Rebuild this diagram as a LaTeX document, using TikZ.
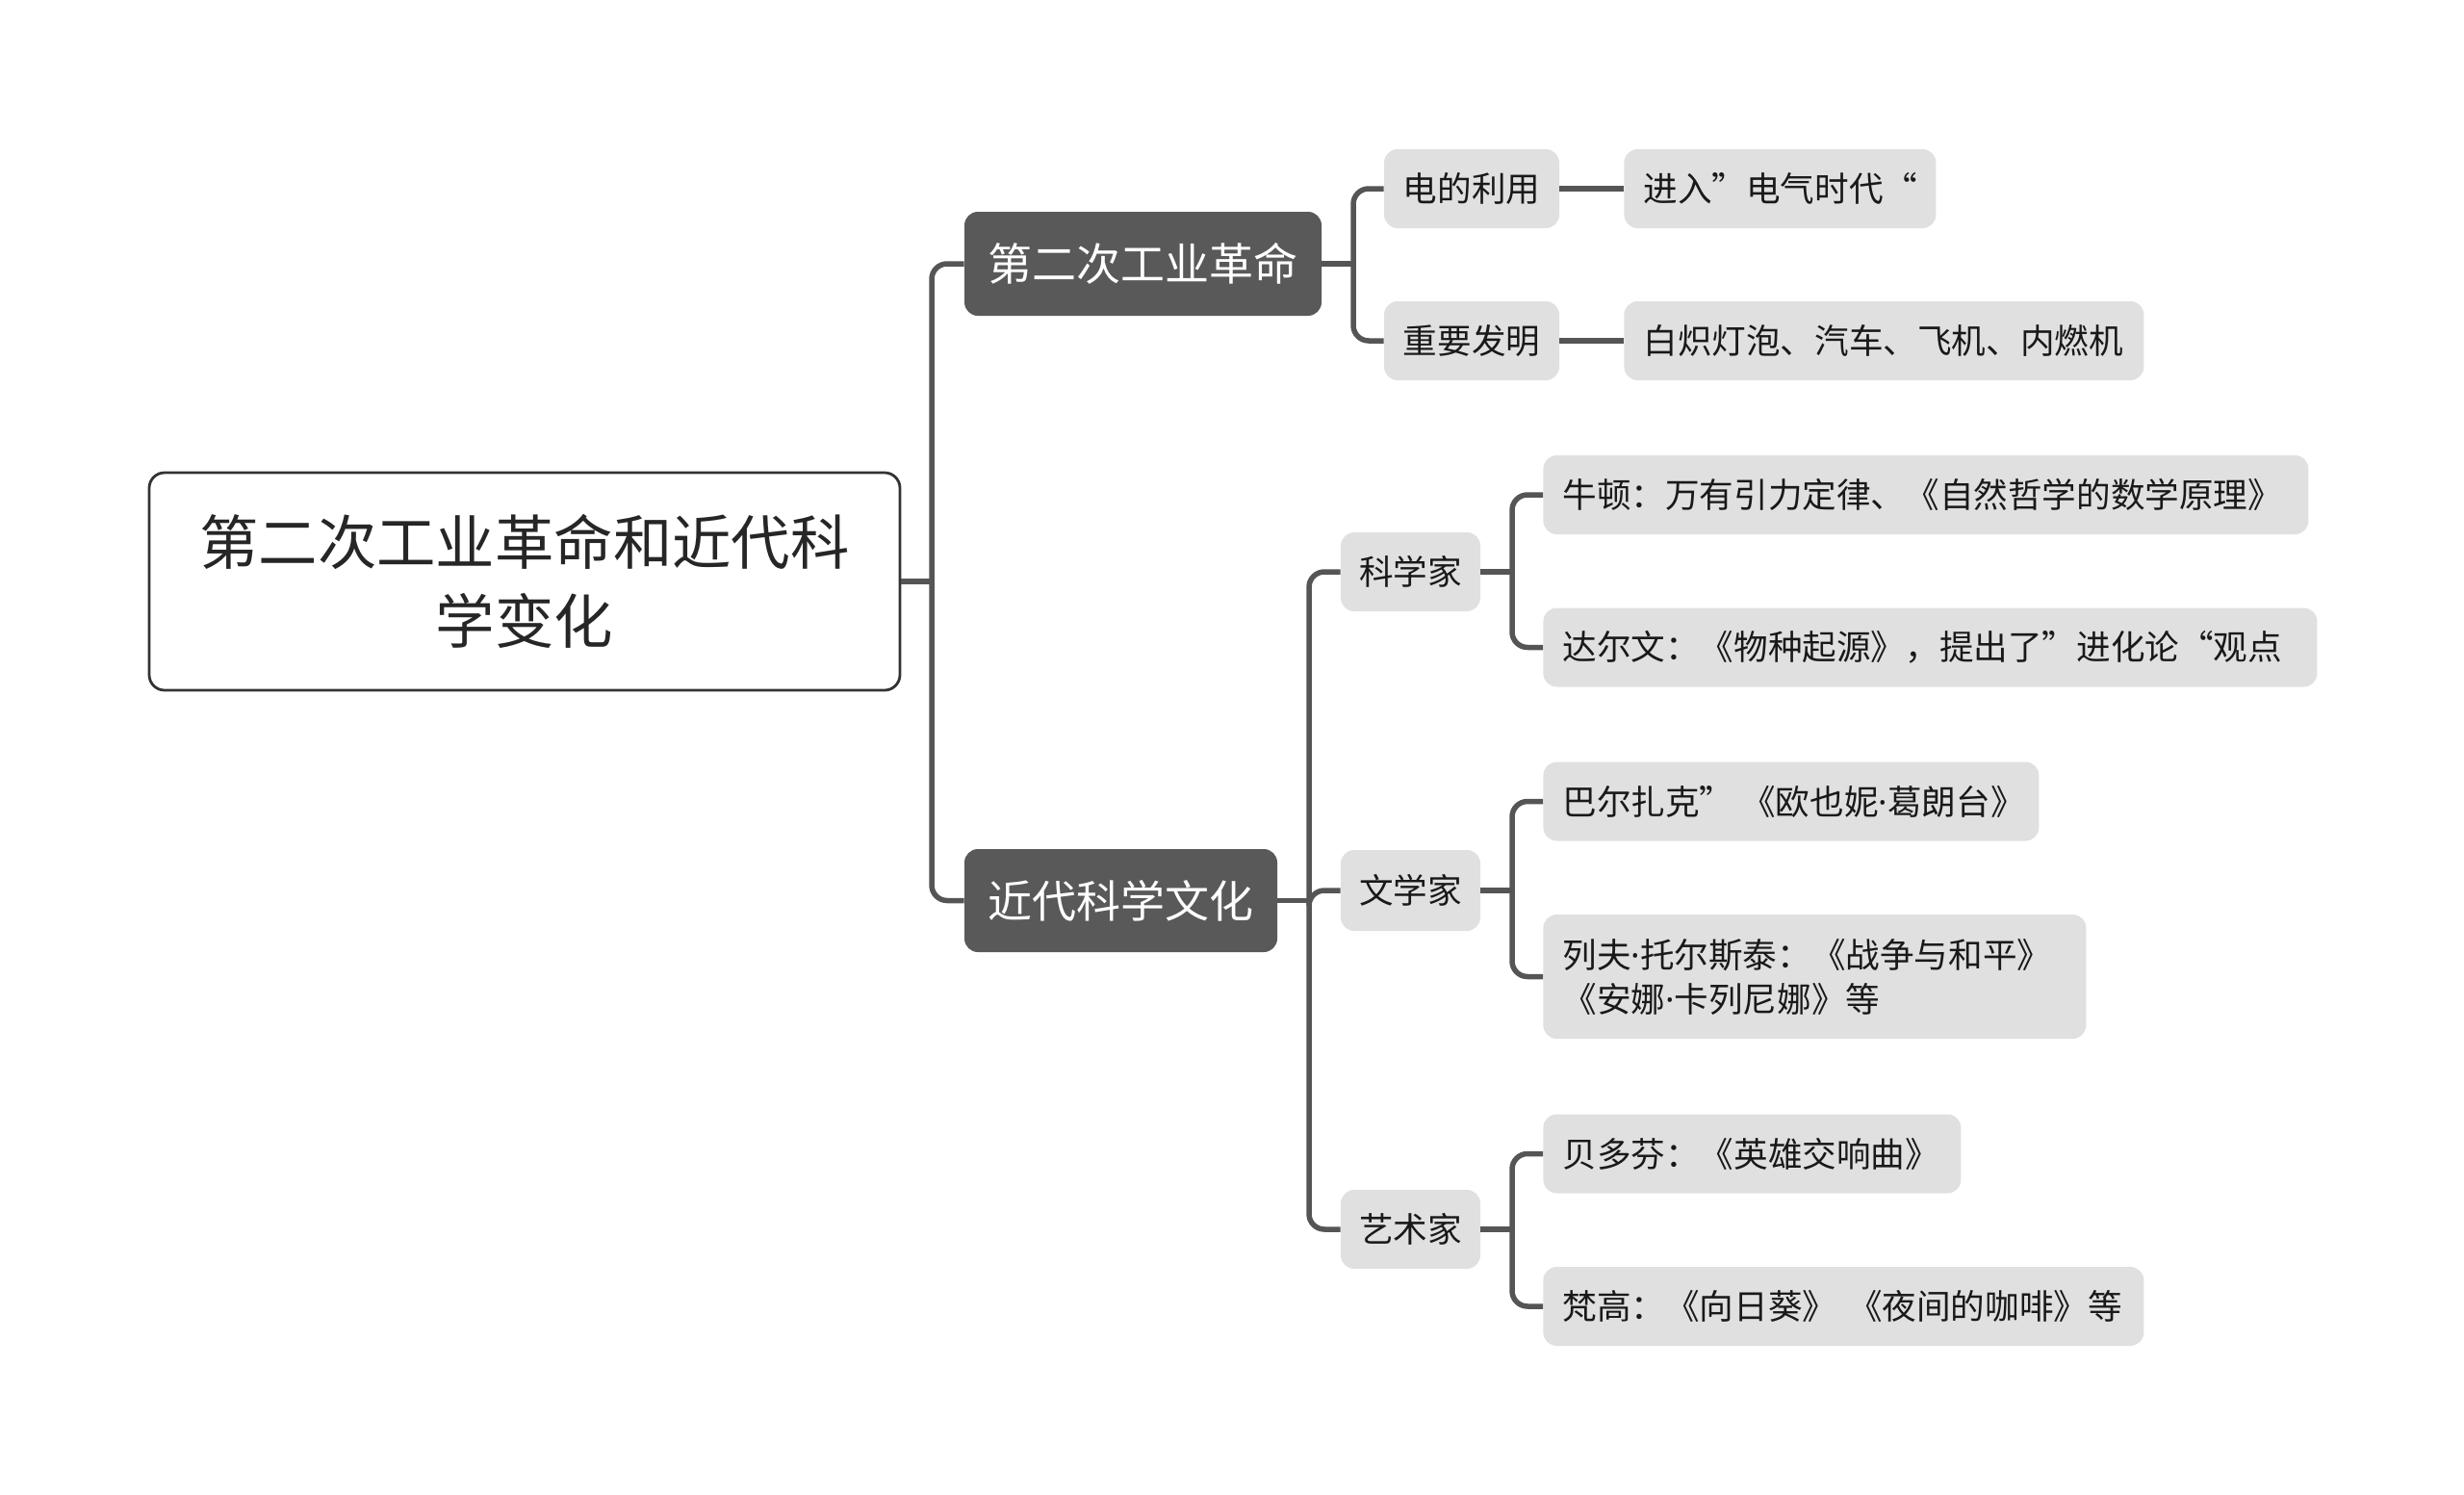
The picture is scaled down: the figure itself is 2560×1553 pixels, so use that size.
\documentclass[tikz,border=0pt]{standalone}
\usepackage{fontspec}
\setmainfont{Noto Sans CJK SC}
\newfontfamily\latinf{Noto Sans}
\newcommand{\mdot}{{\latinf ·}}
\definecolor{darkbox}{HTML}{595959}
\definecolor{lightbox}{HTML}{E0E0E0}
\definecolor{linecol}{HTML}{555555}
\definecolor{rootline}{HTML}{333333}
\tikzset{
  rootbox/.style={draw=rootline, line width=1.4pt, fill=white, rounded corners=8pt,
    align=center, inner sep=0pt, text=black!85,
    font=\fontsize{30.7}{41}\selectfont},
  mainbox/.style={fill=darkbox, rounded corners=7pt, text=white, inner sep=0pt,
    font=\fontsize{23}{28}\selectfont},
  subbox/.style={fill=lightbox, rounded corners=7pt, inner sep=0pt, text=black!90,
    minimum height=41pt, font=\fontsize{17.8}{23}\selectfont},
  leafbox/.style={fill=lightbox, rounded corners=7pt, anchor=west, align=left,
    inner xsep=10pt, inner ysep=0pt, text=black!90, minimum height=41pt,
    font=\fontsize{17.8}{23}\selectfont},
  conn/.style={draw=linecol, line width=2.75pt},
  elbow/.style={conn, rounded corners=8pt},
}
\begin{document}
\begin{tikzpicture}[x=0.5pt,y=-0.5pt]
\useasboundingbox (0,0) rectangle (2560,1553);
% root
\node[rootbox, minimum width=390pt, minimum height=113pt] (root) at (545,604)
  {第二次工业革命和近代科\\学变化};
% main branches
\node[mainbox, minimum width=185.5pt, minimum height=54pt] (b1) at (1187.5,274) {第二次工业革命};
\node[mainbox, minimum width=162.5pt, minimum height=53.5pt] (b2) at (1164.5,935.5) {近代科学文化};
% branch 1 children
\node[subbox, minimum width=91pt] (s11) at (1529,196) {电的利用};
\node[subbox, minimum width=91pt] (s12) at (1529,354) {重要发明};
\node[leafbox, text width=142pt] (l11) at (1687,196) {进入”电气时代“};
\node[leafbox, text width=250pt] (l12) at (1687,354) {白炽灯泡、汽车、飞机、内燃机};
% branch 2 children
\node[subbox, minimum width=72.5pt] (s21) at (1465.5,594) {科学家};
\node[subbox, minimum width=72.5pt, minimum height=42pt] (s22) at (1465.5,925) {文学家};
\node[subbox, minimum width=72.5pt] (s23) at (1465.5,1277) {艺术家};
\node[leafbox, text width=377.5pt] (l21) at (1603,514) {牛顿：万有引力定律、《自然哲学的数学原理》};
\node[leafbox, text width=382pt] (l22) at (1603,672.5) {达尔文：《物种起源》，提出了”进化论“观点};
\node[leafbox, text width=237.5pt] (l23) at (1603,832.5) {\mbox{巴尔扎克”\hspace{4pt}《欧也妮\mdot 葛朗台》}};
\node[leafbox, text width=262pt, minimum height=64.5pt] (l24) at (1603,1014.5) {列夫\mdot 托尔斯泰：《战争与和平》\\《安娜\mdot 卡列尼娜》等};
\node[leafbox, text width=197pt] (l25) at (1603,1198.5) {贝多芬：《英雄交响曲》};
\node[leafbox, text width=292pt] (l26) at (1603,1357) {\mbox{梵高：《向日葵》 《夜间的咖啡》等}};
% junction coordinates
\coordinate (j0) at (968,604);
\coordinate (j1) at (1406,274);
\coordinate (j2) at (1360,935.5);
\coordinate (j21) at (1571,594);
\coordinate (j22) at (1571,925);
\coordinate (j23) at (1571,1277);
% connectors
\draw[conn] (root.east) -- (j0);
\draw[elbow] (j0) |- (b1.west);
\draw[elbow] (j0) |- (b2.west);
\draw[conn] (b1.east) -- (j1);
\draw[elbow] (j1) |- (s11.west);
\draw[elbow] (j1) |- (s12.west);
\draw[conn] (s11.east) -- (l11.west);
\draw[conn] (s12.east) -- (l12.west);
\draw[conn] (b2.east) -- (j2);
\draw[elbow] (j2) |- (s21.west);
\draw[elbow] (j2) |- (s22.west);
\draw[elbow] (j2) |- (s23.west);
\draw[conn] (s21.east) -- (j21);
\draw[elbow] (j21) |- (l21.west);
\draw[elbow] (j21) |- (l22.west);
\draw[conn] (s22.east) -- (j22);
\draw[elbow] (j22) |- (l23.west);
\draw[elbow] (j22) |- (l24.west);
\draw[conn] (s23.east) -- (j23);
\draw[elbow] (j23) |- (l25.west);
\draw[elbow] (j23) |- (l26.west);
\end{tikzpicture}
\end{document}
